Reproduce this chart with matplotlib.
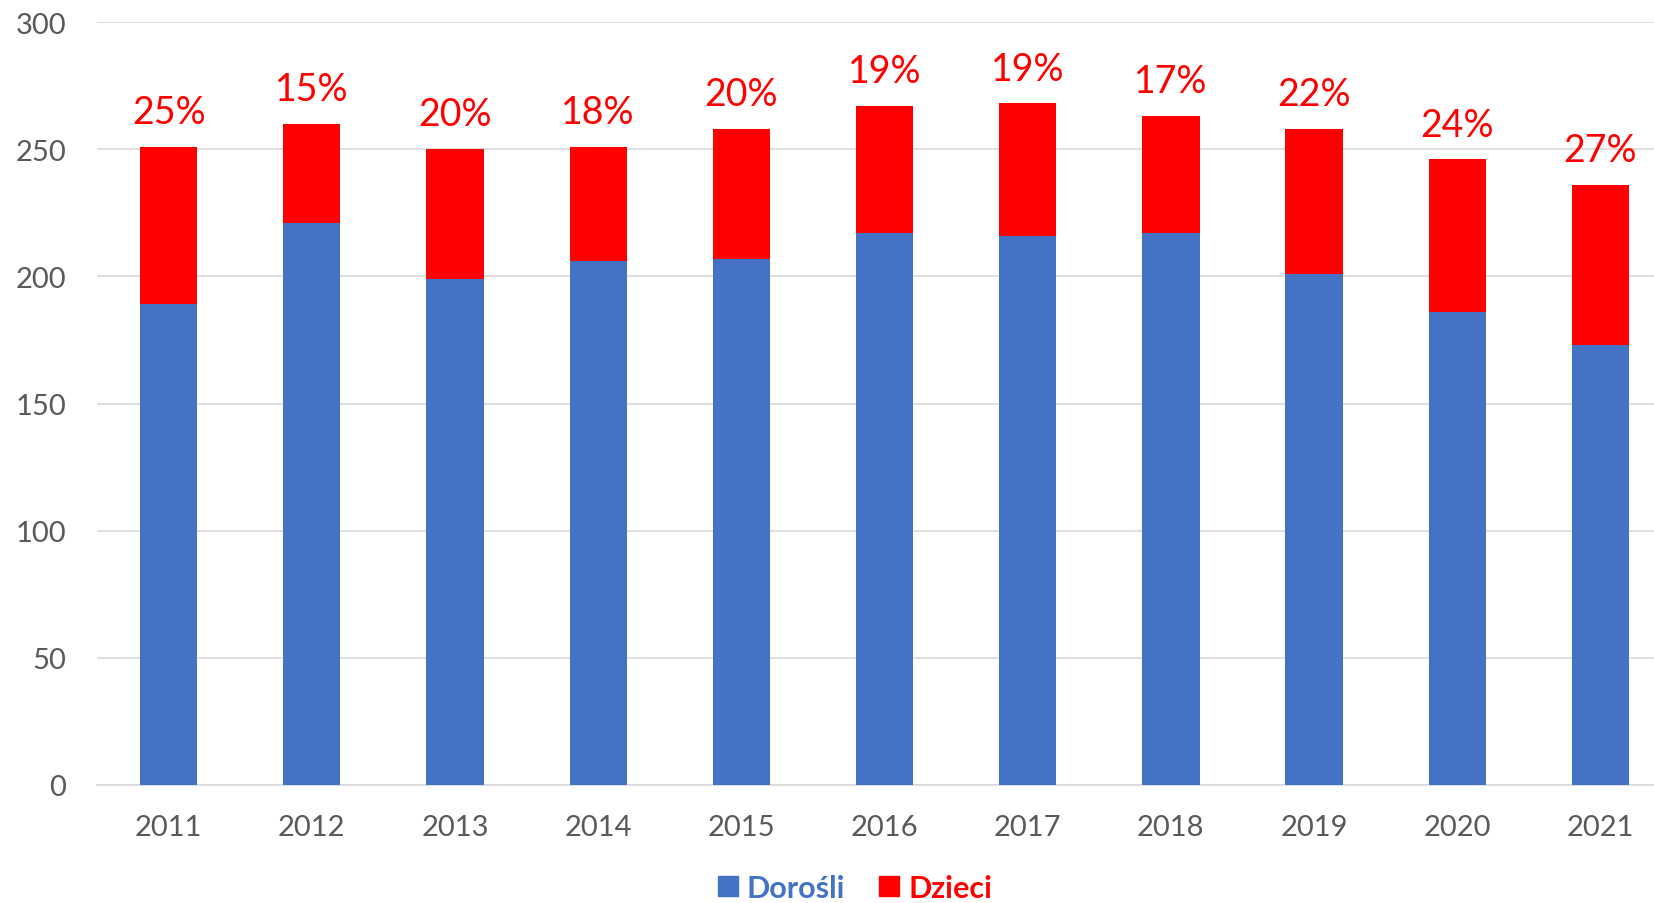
import matplotlib
matplotlib.use("Agg")
import matplotlib.pyplot as plt
from matplotlib.patches import Patch

years = ["2011", "2012", "2013", "2014", "2015", "2016", "2017", "2018", "2019", "2020", "2021"]
adults = [189, 221, 199, 206, 207, 217, 216, 217, 201, 186, 173]
children = [62, 39, 51, 45, 51, 50, 52, 46, 57, 60, 63]
shares = ["25%", "15%", "20%", "18%", "20%", "19%", "19%", "17%", "22%", "24%", "27%"]

BLUE = "#4472C4"
RED = "#FF0000"
GREY = "#595959"

plt.rcParams["font.family"] = ["Lato", "DejaVu Sans"]

fig = plt.figure(figsize=(16.54, 9.04), dpi=100)
W, H = 1654, 904
ax = fig.add_axes([97 / W, (H - 786) / H, (1672 - 97) / W, (786 - 23) / H])

x = list(range(len(years)))
ax.bar(x, adults, width=0.4, color=BLUE, zorder=3)
ax.bar(x, children, width=0.4, bottom=adults, color=RED, zorder=3)

for xi, a, c, s in zip(x, adults, children, shares):
    ax.annotate(s, (xi, a + c), xytext=(0, 25), textcoords="offset points",
                ha="center", va="center", color=RED, fontsize=27)

ax.set_xlim(-0.5, len(years) - 0.5)
ax.set_ylim(0, 300)
ax.set_yticks(range(0, 301, 50))
ax.set_xticks(x)
ax.set_xticklabels(years)
ax.tick_params(axis="both", length=0, labelsize=21, labelcolor=GREY)
ax.tick_params(axis="x", pad=21)
ax.tick_params(axis="y", pad=22)
ax.grid(axis="y", color="#D9D9D9", linewidth=1.2, zorder=0)
for side in ["top", "right", "left"]:
    ax.spines[side].set_visible(False)
ax.spines["bottom"].set_color("#D9D9D9")
ax.spines["bottom"].set_linewidth(1.2)

handles = [Patch(color=BLUE, label="Dorośli"), Patch(color=RED, label="Dzieci")]
leg = fig.legend(handles=handles, loc="center", bbox_to_anchor=(855 / W, 1 - 889 / H),
                 ncol=2, frameon=False, prop={"size": 22, "weight": "bold"},
                 handlelength=0.65, handleheight=0.65, handletextpad=0.3, columnspacing=1.1)
for t, col in zip(leg.get_texts(), [BLUE, RED]):
    t.set_color(col)

fig.savefig("out.png", dpi=100)
